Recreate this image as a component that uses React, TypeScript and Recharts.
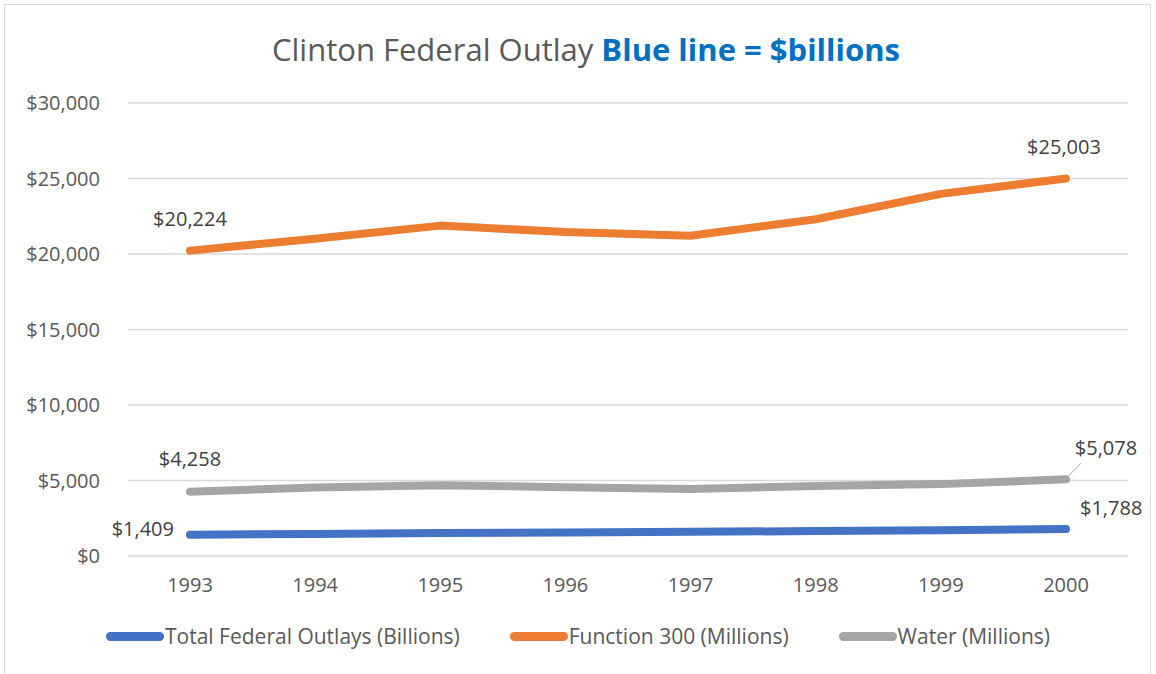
import React from 'react';
import { LineChart, Line, XAxis, YAxis, CartesianGrid, Legend, LabelList } from 'recharts';

const years = ['1993', '1994', '1995', '1996', '1997', '1998', '1999', '2000'];
const totalOutlays = [1409, 1462, 1516, 1561, 1601, 1653, 1702, 1788];
const function300 = [20224, 21010, 21880, 21450, 21210, 22300, 23980, 25003];
const water = [4258, 4540, 4680, 4560, 4430, 4640, 4760, 5078];
const yTicks = [0, 5000, 10000, 15000, 20000, 25000, 30000];

const data = years.map((year, i) => ({
  year,
  total: totalOutlays[i],
  f300: function300[i],
  water: water[i],
}));

const FONT = '"Open Sans", sans-serif';
const TEXT = '#595959';
const money = (v: number) => `$${v.toLocaleString('en-US')}`;

// label placement per series: [first point, last point]
const labelSpots: Record<string, { dx: number; dy: number; anchor: 'start' | 'middle' | 'end'; leader?: boolean }[]> = {
  total: [
    { dx: -16, dy: -6, anchor: 'end' },
    { dx: 14, dy: -22, anchor: 'start' },
  ],
  f300: [
    { dx: 0, dy: -32, anchor: 'middle' },
    { dx: -2, dy: -32, anchor: 'middle' },
  ],
  water: [
    { dx: 0, dy: -33, anchor: 'middle' },
    { dx: 40, dy: -32, anchor: 'middle', leader: true },
  ],
};

const makeLabel = (key: string) => (props: any) => {
  const { x, y, index, value } = props;
  if (index !== 0 && index !== years.length - 1) return null;
  const spot = labelSpots[key][index === 0 ? 0 : 1];
  return (
    <g key={`${key}-${index}`}>
      {spot.leader && (
        <line x1={x + 3} y1={y - 4} x2={x + 15} y2={y - 16} stroke="#a6a6a6" strokeWidth={1} />
      )}
      <text
        x={x + spot.dx}
        y={y + spot.dy}
        textAnchor={spot.anchor}
        dominantBaseline="central"
        fill="#404040"
        fontSize={20}
        fontFamily={FONT}
      >
        {money(value)}
      </text>
    </g>
  );
};

const series = [
  { key: 'total', name: 'Total Federal Outlays (Billions)', color: '#4472C4' },
  { key: 'f300', name: 'Function 300 (Millions)', color: '#ED7D31' },
  { key: 'water', name: 'Water (Millions)', color: '#A5A5A5' },
];

const renderLegend = () => (
  <div style={{ display: 'flex', justifyContent: 'center', gap: 50, fontFamily: FONT, fontSize: 21, color: TEXT }}>
    {series.map((s) => (
      <div key={s.key} style={{ display: 'flex', alignItems: 'center' }}>
        <span style={{ display: 'inline-block', width: 58, height: 9, borderRadius: 5, background: s.color, marginRight: 1 }} />
        <span>{s.name}</span>
      </div>
    ))}
  </div>
);

export default function App() {
  return (
    <div style={{ position: 'absolute', left: 0, top: 0, width: 1156, height: 674, background: '#fff', overflow: 'hidden' }}>
      <div
        style={{
          position: 'absolute',
          left: 4,
          top: 4,
          width: 1147,
          height: 700,
          border: '1px solid #d9d9d9',
          boxSizing: 'border-box',
        }}
      />
      <div
        style={{
          position: 'absolute',
          left: 0,
          width: 1156,
          top: 28,
          textAlign: 'center',
          fontFamily: FONT,
          fontSize: 31,
          color: TEXT,
          paddingLeft: 8,
        }}
      >
        Clinton Federal Outlay <span style={{ color: '#0070C0', fontWeight: 700 }}>Blue line = $billions</span>
      </div>
      <div style={{ position: 'absolute', left: 0, top: 0 }}>
        <LineChart width={1156} height={674} data={data} margin={{ top: 103, right: 28, left: 8, bottom: 24 }}>
          <CartesianGrid vertical={false} stroke="#d9d9d9" strokeWidth={1.5} />
          <XAxis
            dataKey="year"
            padding={{ left: 62, right: 62 }}
            axisLine={false}
            tickLine={false}
            height={64}
            tick={{ fill: TEXT, fontSize: 20, fontFamily: FONT }}
            tickMargin={16}
          />
          <YAxis
            domain={[0, 30000]}
            ticks={yTicks}
            tickFormatter={money}
            axisLine={false}
            tickLine={false}
            width={120}
            tickMargin={22}
            tick={{ fill: TEXT, fontSize: 20, fontFamily: FONT }}
          />
          <Legend
            content={renderLegend}
            wrapperStyle={{ position: 'absolute', top: 622, left: 0, width: 1156, height: 30 }}
            height={55}
          />
          {series.map((s) => (
            <Line
              key={s.key}
              type="linear"
              dataKey={s.key}
              name={s.name}
              stroke={s.color}
              strokeWidth={8}
              strokeLinecap="round"
              strokeLinejoin="round"
              dot={false}
              activeDot={false}
              isAnimationActive={false}
            >
              <LabelList dataKey={s.key} content={makeLabel(s.key)} />
            </Line>
          ))}
        </LineChart>
      </div>
    </div>
  );
}
